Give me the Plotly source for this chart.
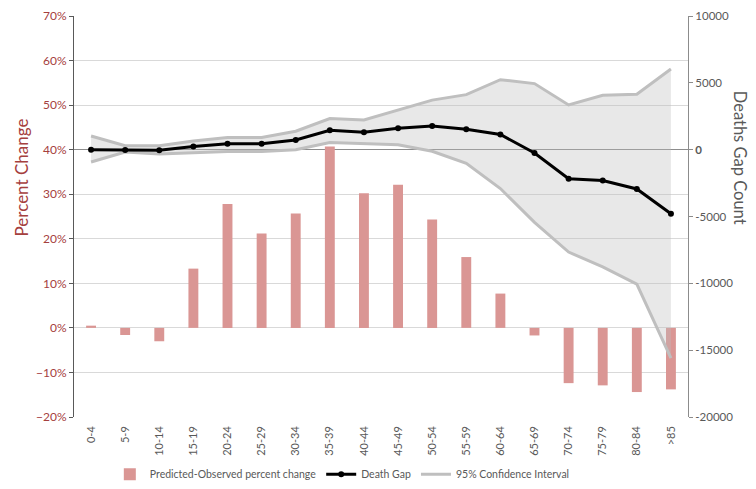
import plotly.graph_objects as go

age_groups = ["0-4", "5-9", "10-14", "15-19", "20-24", "25-29", "30-34", "35-39", "40-44",
              "45-49", "50-54", "55-59", "60-64", "65-69", "70-74", "75-79", "80-84", ">85"]
pct_change = [0.005, -0.016, -0.030, 0.133, 0.278, 0.212, 0.257, 0.407, 0.302,
              0.321, 0.243, 0.159, 0.077, -0.017, -0.124, -0.129, -0.144, -0.138]
death_gap = [0, -20, -50, 240, 435, 435, 727, 1454, 1309,
             1600, 1767, 1527, 1134, -247, -2181, -2305, -2938, -4800]
ci_upper = [1018, 291, 291, 654, 916, 916, 1381, 2327, 2225,
            2953, 3708, 4116, 5235, 4944, 3345, 4072, 4144, 6036]
ci_lower = [-923, -174, -320, -247, -145, -145, 0, 531, 436,
            363, -124, -1018, -2908, -5440, -7660, -8770, -10060, -15600]

left_ticks = [-0.2, -0.1, 0, 0.1, 0.2, 0.3, 0.4, 0.5, 0.6, 0.7]
right_ticks = [-20000, -15000, -10000, -5000, 0, 5000, 10000]
right_labels = ["-20000", "-15000", "-10000", "-5000", "<b>0</b>", "5000", "10000"]

FONT = "Lato, 'Open Sans', sans-serif"
RED = "#a5403e"
GREY_TXT = "#595959"
CI_GREY = "#bfbfbf"

fig = go.Figure()

fig.add_trace(go.Bar(
    x=age_groups, y=pct_change, name="Predicted-Observed percent change",
    marker=dict(color="#da9694", line=dict(width=0)), yaxis="y", legendrank=1,
))
fig.add_trace(go.Scatter(
    x=age_groups, y=ci_lower, mode="lines", line=dict(color=CI_GREY, width=3),
    yaxis="y2", showlegend=False, hoverinfo="skip",
))
fig.add_trace(go.Scatter(
    x=age_groups, y=ci_upper, mode="lines", line=dict(color=CI_GREY, width=3),
    fill="tonexty", fillcolor="rgba(190,190,190,0.35)",
    yaxis="y2", showlegend=False, name="95% Confidence Interval",
))
fig.add_trace(go.Scatter(
    x=age_groups, y=death_gap, mode="lines+markers",
    line=dict(color="#000000", width=3), marker=dict(size=6, color="#000000"),
    yaxis="y2", name="Death Gap", legendrank=2,
))
# legend-only entry for the confidence interval (line swatch, no fill)
fig.add_trace(go.Scatter(
    x=[None], y=[None], mode="lines", line=dict(color=CI_GREY, width=3),
    yaxis="y2", name="95% Confidence Interval", legendrank=3,
))

fig.update_layout(
    width=756, height=489,
    margin=dict(l=66, r=76, t=8, b=70),
    paper_bgcolor="white", plot_bgcolor="white",
    font=dict(family=FONT, color=GREY_TXT),
    bargap=0.71,
    showlegend=True,
    legend=dict(orientation="h", traceorder="normal",
                x=0.437, xanchor="center", y=-0.143, yanchor="middle",
                font=dict(size=10.5, color=GREY_TXT), itemwidth=30, tracegroupgap=0,
                bgcolor="rgba(0,0,0,0)"),
    xaxis=dict(
        type="category", range=[-0.5, 17.5], tickangle=-90, showgrid=False,
        showline=False, ticks="", ticklabelstandoff=6, automargin=False,
        tickfont=dict(size=11, color=GREY_TXT, family=FONT),
    ),
    yaxis=dict(
        range=[-0.2, 0.7], tickvals=left_ticks, tickformat=".0%",
        showgrid=True, gridcolor="#d9d9d9", gridwidth=1, automargin=False,
        zeroline=False, showline=True, linecolor="#595959", linewidth=1,
        ticks="outside", ticklen=4, tickcolor="#595959", ticklabeloverflow="allow",
        tickfont=dict(size=12, color=RED, family=FONT),
    ),
    yaxis2=dict(
        range=[-20000, 10000], overlaying="y", side="right", automargin=False,
        tickvals=right_ticks, ticktext=right_labels,
        showgrid=False, zeroline=True, zerolinecolor="#8c8c8c", zerolinewidth=1,
        showline=True, linecolor="#8c8c8c", linewidth=1,
        ticks="outside", ticklen=4, tickcolor="#8c8c8c", ticklabeloverflow="allow",
        tickfont=dict(size=11.5, color=GREY_TXT, family=FONT),
    ),
    annotations=[
        dict(text="Percent Change", textangle=-90, xref="paper", yref="paper",
             x=-0.085, y=0.597, xanchor="center", yanchor="middle", showarrow=False,
             font=dict(size=17, color=RED, family=FONT)),
        dict(text="Deaths Gap Count", textangle=90, xref="paper", yref="paper",
             x=1.085, y=0.646, xanchor="center", yanchor="middle", showarrow=False,
             font=dict(size=16.5, color=GREY_TXT, family=FONT)),
    ],
)

fig.write_html("out.html")
